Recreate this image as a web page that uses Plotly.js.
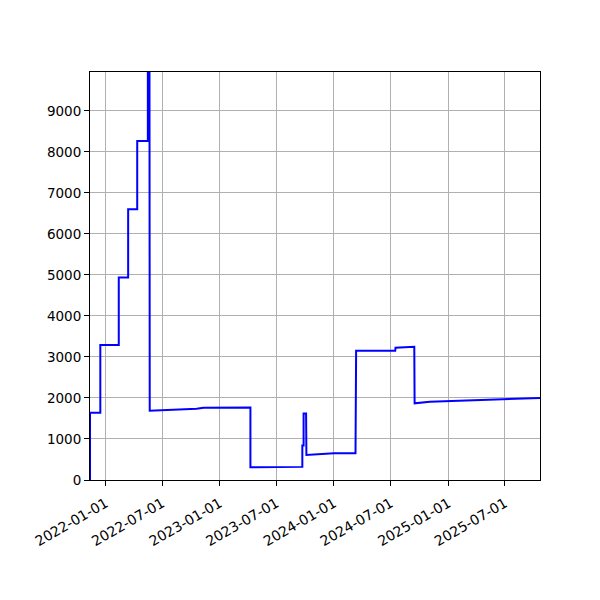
<!DOCTYPE html>
<html>
<head>
<meta charset="utf-8">
<script src="https://cdn.plot.ly/plotly-3.0.1.min.js"></script>
<style>
  body { margin: 0; background: #fff; }
  #chart { width: 600px; height: 600px; }
</style>
</head>
<body>
<div id="chart"></div>
<script>
// series; steps are given as two points on the same day
const dates = ['2021-11-12', '2021-11-12', '2021-12-15', '2021-12-15', '2022-02-12',
    '2022-02-12', '2022-03-14', '2022-03-14', '2022-04-12', '2022-04-12',
    '2022-05-16', '2022-05-16', '2022-05-21', '2022-05-22', '2022-10-19',
    '2022-11-10', '2023-04-09', '2023-04-09', '2023-09-22', '2023-09-22',
    '2023-09-26', '2023-09-26', '2023-10-04', '2023-10-05', '2024-01-01',
    '2024-03-10', '2024-03-12', '2024-07-15', '2024-07-16', '2024-09-14',
    '2024-09-15', '2024-11-03', '2025-10-21'];
const values = [0, 1640, 1640, 3290, 3290,
    4940, 4940, 6600, 6600, 8270,
    8270, 12000, 12000, 1690, 1735,
    1760, 1770, 310, 320, 840,
    840, 1620, 1620, 610, 650,
    650, 3150, 3150, 3225, 3250,
    1870, 1910, 2000];

const tickDates = ['2022-01-01', '2022-07-01', '2023-01-01', '2023-07-01',
    '2024-01-01', '2024-07-01', '2025-01-01', '2025-07-01'];
const yTicks = [0, 1000, 2000, 3000, 4000, 5000, 6000, 7000, 8000, 9000];

const trace = {
    x: dates,
    y: values,
    mode: 'lines',
    line: {color: 'blue', width: 2},
    showlegend: false
};

const axisStyle = {
    showline: true,
    mirror: true,
    linecolor: 'black',
    linewidth: 1,
    showgrid: true,
    gridcolor: '#b0b0b0',
    gridwidth: 1,
    ticks: 'outside',
    ticklen: 5,
    tickcolor: 'black',
    zeroline: false,
    tickfont: {family: 'DejaVu Sans', size: 13.5, color: 'black'}
};

const layout = {
    width: 600,
    height: 600,
    margin: {l: 90, r: 60, t: 72, b: 120},
    paper_bgcolor: 'white',
    plot_bgcolor: 'white',
    xaxis: Object.assign({}, axisStyle, {
        type: 'date',
        range: ['2021-11-12', '2025-10-21'],
        tickvals: tickDates,
        ticktext: tickDates,
        tickangle: -30,
        ticklabelstandoff: 4,
        tickfont: {family: 'DejaVu Sans', size: 14, color: 'black'}
    }),
    yaxis: Object.assign({}, axisStyle, {
        range: [0, 9950],
        tickvals: yTicks,
        ticktext: yTicks.map(String)
    })
};

Plotly.newPlot('chart', [trace], layout, {staticPlot: true, displayModeBar: false});
</script>
</body>
</html>
